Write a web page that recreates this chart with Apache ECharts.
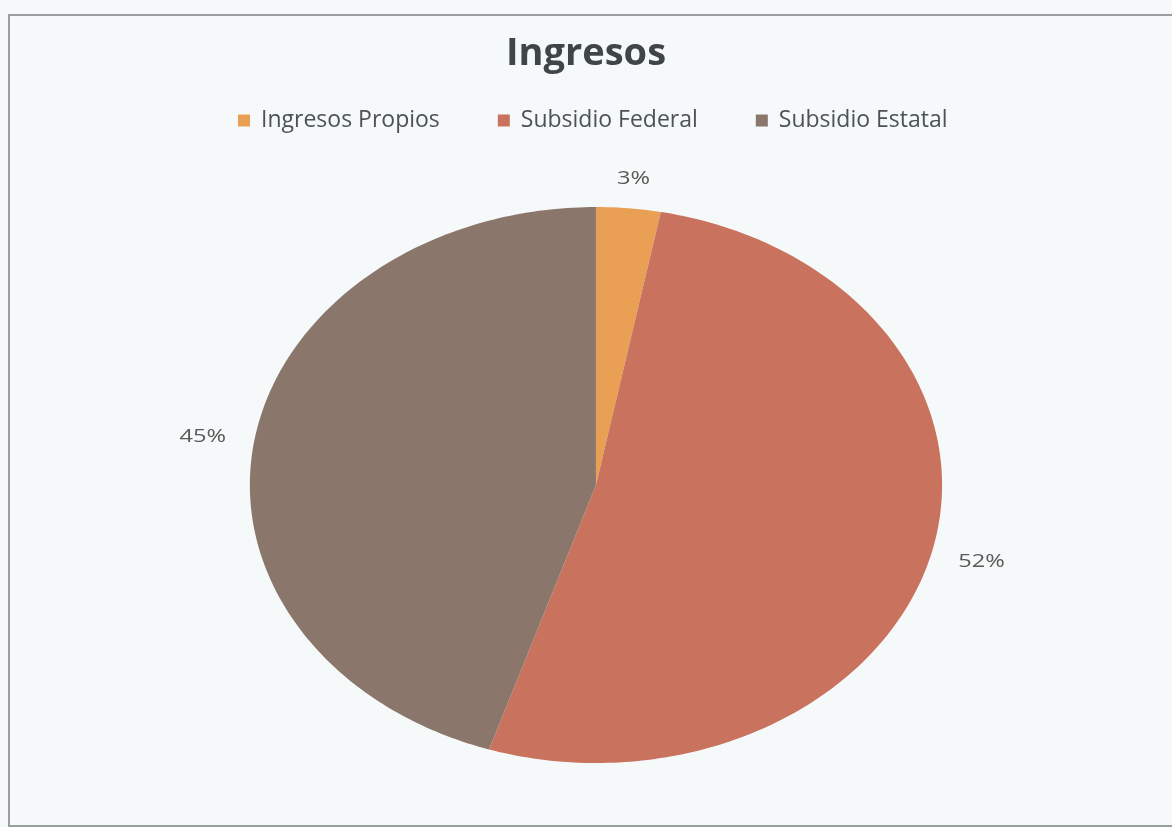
<!DOCTYPE html>
<html>
<head>
<meta charset="utf-8">
<title>Ingresos</title>
<script src="https://cdn.jsdelivr.net/npm/echarts@6/dist/echarts.min.js"></script>
<style>
  html, body { margin: 0; padding: 0; background: #f5f9f9; }
  #chart { width: 1172px; height: 827px; }
</style>
</head>
<body>
<div id="chart"></div>
<script>
// datos del grafico
const categories = ['Ingresos Propios', 'Subsidio Federal', 'Subsidio Estatal']
const values = [3, 52, 45]
const colors = ['#e9a055', '#c9735f', '#8b766b']

const total = values.reduce((a, b) => a + b, 0)
const stretch = 1.245 // el original esta estirado en horizontal

// pastel eliptico (como el original de Excel, estirado)
function renderSlice(params, api) {
  const i = params.seriesIndex
  const w = api.getWidth(), h = api.getHeight()
  const cx = w * 0.5085, cy = h * 0.5865
  const ry = 278, rx = ry * stretch
  let start = 0
  for (let k = 0; k < i; k++) start += values[k]
  const val = api.value(0)
  const a0 = start / total * Math.PI * 2
  const a1 = (start + val) / total * Math.PI * 2
  const pts = [[cx, cy]]
  const steps = Math.max(4, Math.ceil((a1 - a0) * 60))
  for (let s = 0; s <= steps; s++) {
    const t = a0 + (a1 - a0) * s / steps
    pts.push([cx + rx * Math.sin(t), cy - ry * Math.cos(t)])
  }
  const mid = (a0 + a1) / 2
  return {
    type: 'group',
    children: [
      {
        type: 'polygon',
        shape: { points: pts },
        style: { fill: api.visual('color') }
      },
      {
        type: 'text',
        x: cx + (rx + 52) * Math.sin(mid),
        y: cy - (ry + 30) * Math.cos(mid),
        scaleX: stretch,
        style: {
          text: Math.round(val / total * 100) + '%',
          fill: '#595959',
          font: '19px "Open Sans", sans-serif',
          align: 'center',
          verticalAlign: 'middle'
        }
      }
    ]
  }
}

const chart = echarts.init(document.getElementById('chart'))
chart.setOption({
  backgroundColor: '#f5f9f9',
  animation: false,
  title: {
    text: 'Ingresos',
    left: 'center',
    top: 30,
    textStyle: {
      fontFamily: 'Open Sans',
      fontWeight: 'bold',
      fontSize: 38,
      color: '#404545'
    }
  },
  legend: {
    data: categories,
    top: 104,
    left: 233,
    icon: 'rect',
    itemWidth: 12,
    itemHeight: 12,
    itemGap: 58,
    textStyle: { fontFamily: 'Open Sans', fontSize: 23, color: '#4d5252', padding: [0, 0, 0, 6] }
  },
  graphic: [{
    type: 'rect',
    shape: { x: 9, y: 15, width: 1200, height: 811 },
    style: { fill: 'none', stroke: '#9a9e9e', lineWidth: 2 },
    silent: true
  }],
  series: categories.map((name, i) => ({
    type: 'custom',
    name: name,
    coordinateSystem: 'none',
    itemStyle: { color: colors[i] },
    data: [[values[i]]],
    renderItem: renderSlice
  }))
})
</script>
</body>
</html>
